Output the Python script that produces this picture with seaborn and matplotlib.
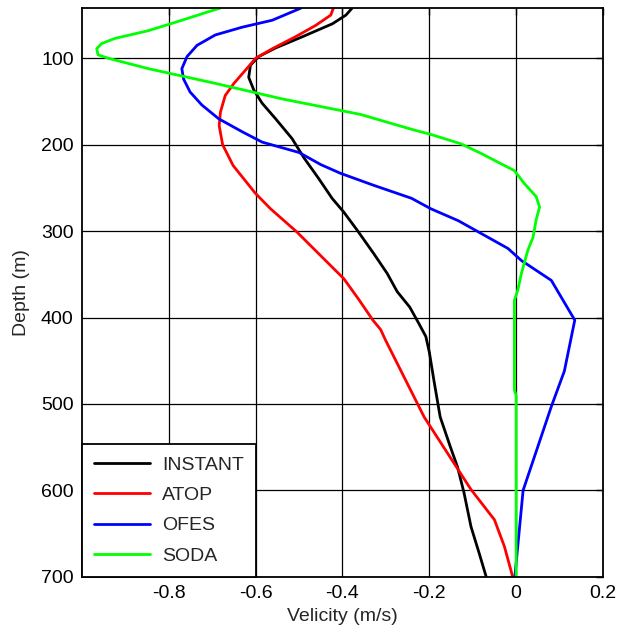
import pandas as pd
import seaborn as sns
import matplotlib.pyplot as plt

# --- Data ---
instant_depth = [42, 50, 60, 75, 88, 98, 108, 122, 137, 152, 170, 193, 215, 239, 262, 278,
                 299, 326, 349, 370, 388, 407, 422, 440, 474, 515, 549, 573, 603, 642, 673, 700]
instant_vel = [-0.378, -0.392, -0.423, -0.492, -0.554, -0.593, -0.612, -0.616, -0.604, -0.585,
               -0.554, -0.516, -0.489, -0.455, -0.424, -0.397, -0.366, -0.328, -0.297, -0.274,
               -0.245, -0.224, -0.208, -0.200, -0.189, -0.175, -0.152, -0.135, -0.120, -0.104,
               -0.085, -0.069]

atop_depth = [42, 50, 62, 75, 89, 100, 114, 129, 143, 162, 178, 200, 224, 256, 274, 301, 328,
              355, 378, 403, 414, 426, 461, 515, 557, 599, 634, 665, 700]
atop_vel = [-0.421, -0.427, -0.462, -0.508, -0.562, -0.600, -0.624, -0.650, -0.670, -0.681,
            -0.684, -0.676, -0.652, -0.601, -0.566, -0.505, -0.451, -0.397, -0.364, -0.330,
            -0.312, -0.301, -0.266, -0.212, -0.158, -0.104, -0.050, -0.027, -0.008]

ofes_depth = [42, 56, 64, 73, 85, 98, 112, 124, 139, 154, 170, 185, 197, 209, 223, 233, 247,
              262, 274, 288, 320, 334, 357, 403, 462, 503, 600, 700]
ofes_vel = [-0.496, -0.562, -0.631, -0.693, -0.735, -0.758, -0.770, -0.766, -0.751, -0.724,
            -0.685, -0.631, -0.585, -0.500, -0.450, -0.405, -0.328, -0.241, -0.197, -0.133,
            -0.019, 0.012, 0.081, 0.135, 0.111, 0.081, 0.016, -0.003]

soda_depth = [42, 46, 56, 68, 77, 83, 89, 96, 100, 112, 129, 147, 165, 174, 183, 188, 199,
              210, 222, 230, 245, 260, 272, 287, 307, 322, 349, 368, 380, 484, 490, 700]
soda_vel = [-0.682, -0.708, -0.770, -0.847, -0.924, -0.955, -0.966, -0.963, -0.939, -0.847,
            -0.693, -0.539, -0.358, -0.297, -0.235, -0.197, -0.127, -0.081, -0.035, -0.004,
            0.019, 0.046, 0.054, 0.046, 0.039, 0.027, 0.012, 0.004, -0.004, -0.004, 0.000,
            0.000]

models = ["INSTANT", "ATOP", "OFES", "SODA"]
colors = {"INSTANT": "black", "ATOP": "red", "OFES": "blue", "SODA": "lime"}

frames = []
for name, d, v in [("INSTANT", instant_depth, instant_vel), ("ATOP", atop_depth, atop_vel),
                   ("OFES", ofes_depth, ofes_vel), ("SODA", soda_depth, soda_vel)]:
    frames.append(pd.DataFrame({"Depth": d, "Velocity": v, "Model": name}))
df = pd.concat(frames, ignore_index=True)

# --- Style ---
sns.set_style("white")
plt.rcParams["font.family"] = ["Liberation Sans", "DejaVu Sans"]

fig = plt.figure(figsize=(6.21, 6.29), dpi=100)
ax = fig.add_axes([0.132, 0.083, 0.839, 0.904])

sns.lineplot(data=df, x="Velocity", y="Depth", hue="Model", hue_order=models,
             palette=colors, sort=False, estimator=None, orient="y", lw=2, ax=ax)

ax.set_xlim(-1.0, 0.2)
ax.set_ylim(700, 42)
ax.set_xticks([-0.8, -0.6, -0.4, -0.2, 0, 0.2])
ax.set_xticklabels(["-0.8", "-0.6", "-0.4", "-0.2", "0", "0.2"])
ax.set_yticks([100, 200, 300, 400, 500, 600, 700])
ax.grid(True, color="black", lw=0.9, alpha=1)
ax.set_axisbelow(True)
ax.tick_params(direction="in", length=5, width=1, top=True, right=True, labelsize=14,
               colors="black", pad=6)
for s in ax.spines.values():
    s.set_color("black")
    s.set_linewidth(1.3)

ax.set_xlabel("Velicity (m/s)", fontsize=14, labelpad=4)
ax.set_ylabel("Depth (m)", fontsize=14, labelpad=8)

sns.move_legend(ax, "lower left", title=None, borderaxespad=0, frameon=True,
                fancybox=False, edgecolor="black", framealpha=1, fontsize=14,
                handlelength=2.9, handletextpad=0.6, labelspacing=0.65, borderpad=0.62)
leg = ax.get_legend()
leg.get_frame().set_linewidth(1.3)
for line in leg.get_lines():
    line.set_linewidth(2)

fig.savefig("out.png", dpi=100)
